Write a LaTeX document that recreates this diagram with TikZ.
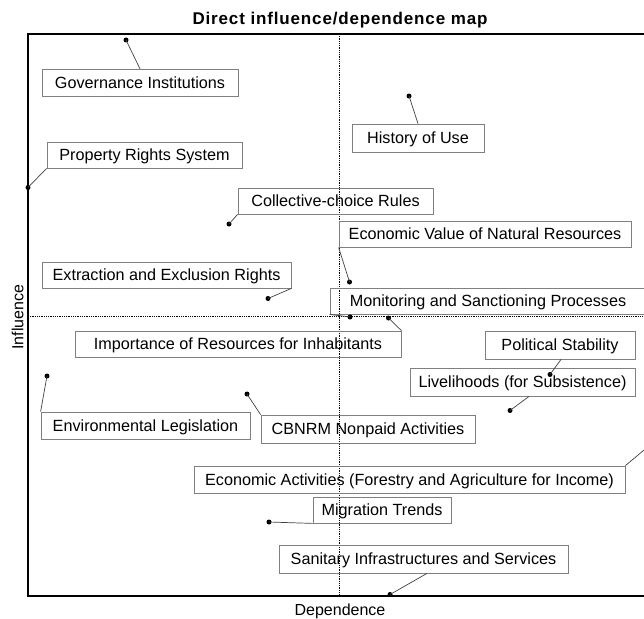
\documentclass[tikz,border=0pt]{standalone}
\usepackage{fontspec}
\setmainfont{Liberation Sans}
\newfontfamily\titlefont[LetterSpace=5]{Liberation Sans}
\begin{document}
\begin{tikzpicture}[x=1pt,y=-1pt]
	%styles
	\tikzset{lbl/.style={draw=black!50, line width=0.8pt, minimum height=27pt, text height=11.6pt, text depth=0pt, inner sep=0pt, font=\fontsize{16.2}{19}\selectfont}};
	\tikzset{dotpt/.style={circle, fill=black, inner sep=0pt, minimum size=5pt}};
	\tikzset{lead/.style={draw=black!75, line width=0.7pt}};
	\tikzset{axlbl/.style={inner sep=0pt, text height=11.5pt, text depth=0pt, font=\fontsize{16}{19}\selectfont}};
	\clip (0,0) rectangle (644,618);
	
	%Rahmen
	\draw[line width=2pt] (28,34) rectangle (680,596);
	\draw[densely dotted, line width=0.8pt] (339,34) -- (339,596);
	\draw[densely dotted, line width=0.8pt] (28,316) -- (680,316);
	
	%Titel und Achsen
	\node[inner sep=0pt, text height=12pt, text depth=0pt, font=\titlefont\bfseries\fontsize{17}{20}\selectfont] (title) at (340,19) {Direct influence/dependence map};
	\node[axlbl, rotate=90] (yax) at (17.5,317) {Influence};
	\node[axlbl] (xax) at (340,610) {Dependence};
	
	%Boxen
	\node[lbl, minimum width=196pt] (gov) at (140,82.8) {Governance Institutions};
	\node[lbl, minimum width=195pt, minimum height=26pt] (prs) at (144.5,155) {Property Rights System};
	\node[lbl, minimum width=132pt, minimum height=28pt] (hist) at (418,138) {History of Use};
	\node[lbl, minimum width=195pt, minimum height=26pt] (ccr) at (335.5,201) {Collective-choice Rules};
	\node[lbl, minimum width=292pt, minimum height=26pt] (evnr) at (485,234) {Economic Value of Natural Resources};
	\node[lbl, minimum width=249pt, minimum height=26pt] (eer) at (166.5,275) {Extraction and Exclusion Rights};
	\node[lbl, minimum width=316pt, minimum height=26pt] (msp) at (488,301) {Monitoring and Sanctioning Processes};
	\node[lbl, minimum width=326pt, minimum height=26pt] (iri) at (238,344) {Importance of Resources for Inhabitants};
	\node[lbl, minimum width=150pt, minimum height=28pt] (ps) at (560,345) {Political Stability};
	\node[lbl, minimum width=225pt, minimum height=28pt] (liv) at (522.5,382) {Livelihoods (for Subsistence)};
	\node[lbl, minimum width=209pt] (envleg) at (145.5,425.5) {Environmental Legislation};
	\node[lbl, minimum width=214pt, minimum height=28pt] (cbnrm) at (368,429) {CBNRM Nonpaid Activities};
	\node[lbl, minimum width=431pt] (econact) at (409.5,479.5) {Economic Activities (Forestry and Agriculture for Income)};
	\node[lbl, minimum width=138pt, minimum height=26pt] (migr) at (382,510) {Migration Trends};
	\node[lbl, minimum width=289pt, minimum height=28pt] (sanit) at (423.5,559) {Sanitary Infrastructures and Services};
	
	%Punkte
	\node[dotpt] (p-gov) at (126,40) {};
	\node[dotpt] (p-prs) at (28,187.5) {};
	\node[dotpt] (p-hist) at (409,96) {};
	\node[dotpt] (p-ccr) at (229,224) {};
	\node[dotpt] (p-evnr) at (349.5,282) {};
	\node[dotpt] (p-eer) at (268,298.5) {};
	\node[dotpt] (p-msp) at (350,317) {};
	\node[dotpt] (p-iri) at (388.5,318) {};
	\node[dotpt] (p-ps) at (550,374.5) {};
	\node[dotpt] (p-liv) at (510,410.5) {};
	\node[dotpt] (p-envleg) at (47,376) {};
	\node[dotpt] (p-cbnrm) at (247,394) {};
	\node[dotpt] (p-econact) at (662,435) {};
	\node[dotpt] (p-migr) at (269,522) {};
	\node[dotpt] (p-sanit) at (390,594.5) {};
	
	%Verbindungen
	\draw[lead] (p-gov.center) -- (gov.north);
	\draw[lead] (p-prs.center) -- (prs.south west);
	\draw[lead] (p-hist.center) -- (hist.north);
	\draw[lead] (p-ccr.center) -- (ccr.south west);
	\draw[lead] (p-evnr.center) -- (evnr.south west);
	\draw[lead] (p-eer.center) -- (eer.south east);
	\draw[lead] (p-msp.center) -- (msp.south west);
	\draw[lead] (p-iri.center) -- (iri.north east);
	\draw[lead] (p-ps.center) -- ([xshift=1pt]ps.south);
	\draw[lead] (p-liv.center) -- ([xshift=6.5pt]liv.south);
	\draw[lead] (p-envleg.center) -- (envleg.north west);
	\draw[lead] (p-cbnrm.center) -- (cbnrm.north west);
	\draw[lead] (p-econact.center) -- (econact.north east);
	\draw[lead] (p-migr.center) -- (migr.south west);
	\draw[lead] (p-sanit.center) -- ([xshift=3.5pt]sanit.south);
\end{tikzpicture}
\end{document}
